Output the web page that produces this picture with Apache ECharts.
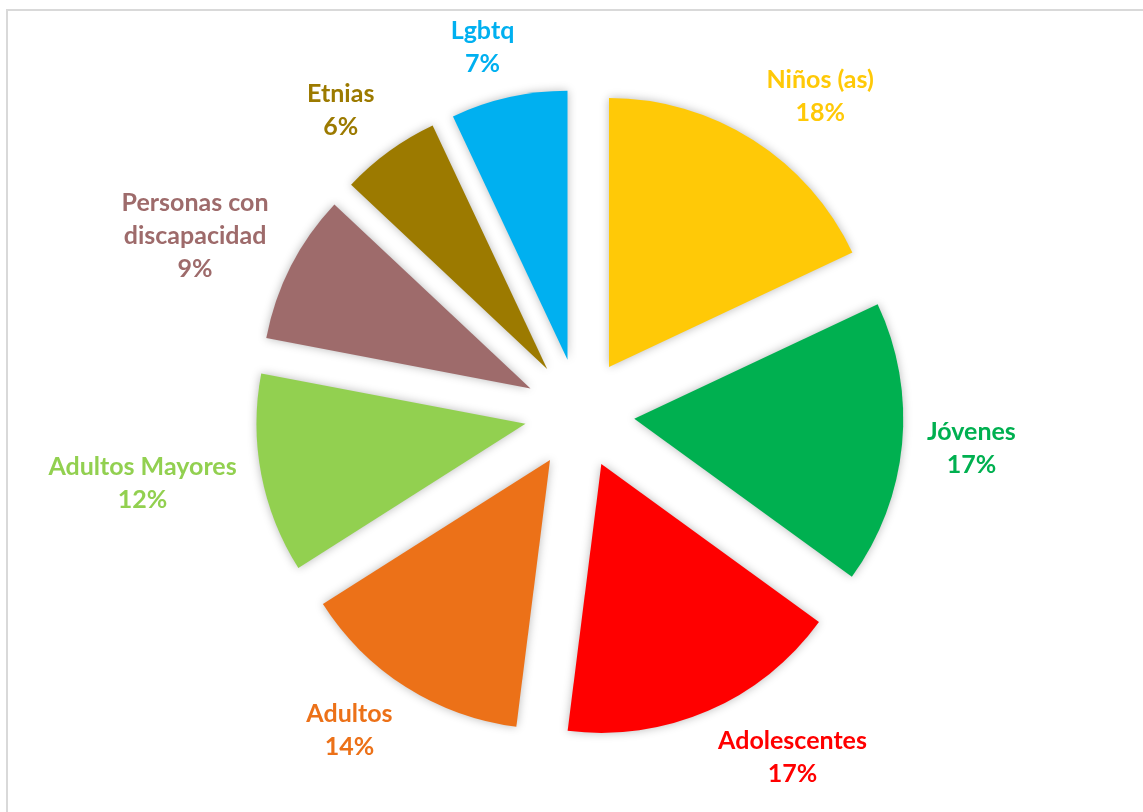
<!DOCTYPE html>
<html><head><meta charset="utf-8">
<script src="https://cdn.jsdelivr.net/npm/echarts@6/dist/echarts.min.js"></script>
<style>html,body{margin:0;padding:0;background:#fff}#c{width:1143px;height:812px}</style>
</head><body><div id="c"></div>
<script>
const categories = ['Niños (as)', 'Jóvenes', 'Adolescentes', 'Adultos', 'Adultos Mayores', 'Personas con\ndiscapacidad', 'Etnias', 'Lgbtq'];
const values = [18, 17, 17, 14, 12, 9, 6, 7];
const colors = ['#FFC907', '#00B050', '#FF0000', '#EC7118', '#92D050', '#9E6B6B', '#9C7A00', '#00B0F0'];

const CX = 579.5, CY = 413.5, R = 269, OFF = 55, GAP = 25, KX = 3, KY = 1;
const FONT = 'bold 25px Lato';
const LH = 33;
const total = values.reduce((a, b) => a + b, 0);
function mid(i) { let s = 0; for (let j = 0; j < i; j++) s += values[j]; return (s + values[i] / 2) / total * 2 * Math.PI; }
function clamp(v) { return Math.max(-1, Math.min(1, v)); }

const ctx = document.createElement('canvas').getContext('2d');
ctx.font = FONT;

const labelTexts = categories.map((n, i) => n + '\n' + Math.round(values[i] / total * 100) + '%');
const labels = labelTexts.map((t, i) => {
  const lines = t.split('\n');
  const w = Math.max(...lines.map(l => ctx.measureText(l).width));
  const h = lines.length * LH - 14;
  const a = mid(i);
  const ux = Math.sin(a), uy = -Math.cos(a);
  const ax = CX + (OFF + R + GAP) * ux, ay = CY + (OFF + R + GAP) * uy;
  return {
    type: 'text', z: 100, silent: true,
    x: ax + clamp(KX * ux) * w / 2,
    y: ay + clamp(KY * uy) * h / 2,
    style: { text: t, fill: colors[i], font: FONT, lineHeight: LH, align: 'center', verticalAlign: 'middle' }
  };
});

const chart = echarts.init(document.getElementById('c'), null, { renderer: 'canvas' });
chart.setOption({
  animation: false,
  backgroundColor: '#fff',
  graphic: [
    { type: 'rect', z: -1, silent: true, x: 7, y: 10, shape: { x: 0, y: 0, width: 1200, height: 900 }, style: { fill: 'none', stroke: '#D9D9D9', lineWidth: 2 } }
  ].concat(labels),
  series: [{
    type: 'pie', center: [CX, CY], radius: [0, R], startAngle: 90, clockwise: true,
    selectedMode: 'multiple', selectedOffset: OFF,
    avoidLabelOverlap: false,
    emphasis: { disabled: true },
    itemStyle: { shadowBlur: 10, shadowColor: 'rgba(0,0,0,0.28)', shadowOffsetX: 0, shadowOffsetY: 0 },
    select: { itemStyle: { shadowBlur: 10, shadowColor: 'rgba(0,0,0,0.28)', shadowOffsetX: 0, shadowOffsetY: 0 } },
    label: { show: false },
    labelLine: { show: false },
    data: categories.map((n, i) => ({ name: n, value: values[i], selected: true, itemStyle: { color: colors[i] } }))
  }]
});
</script>
</body></html>
